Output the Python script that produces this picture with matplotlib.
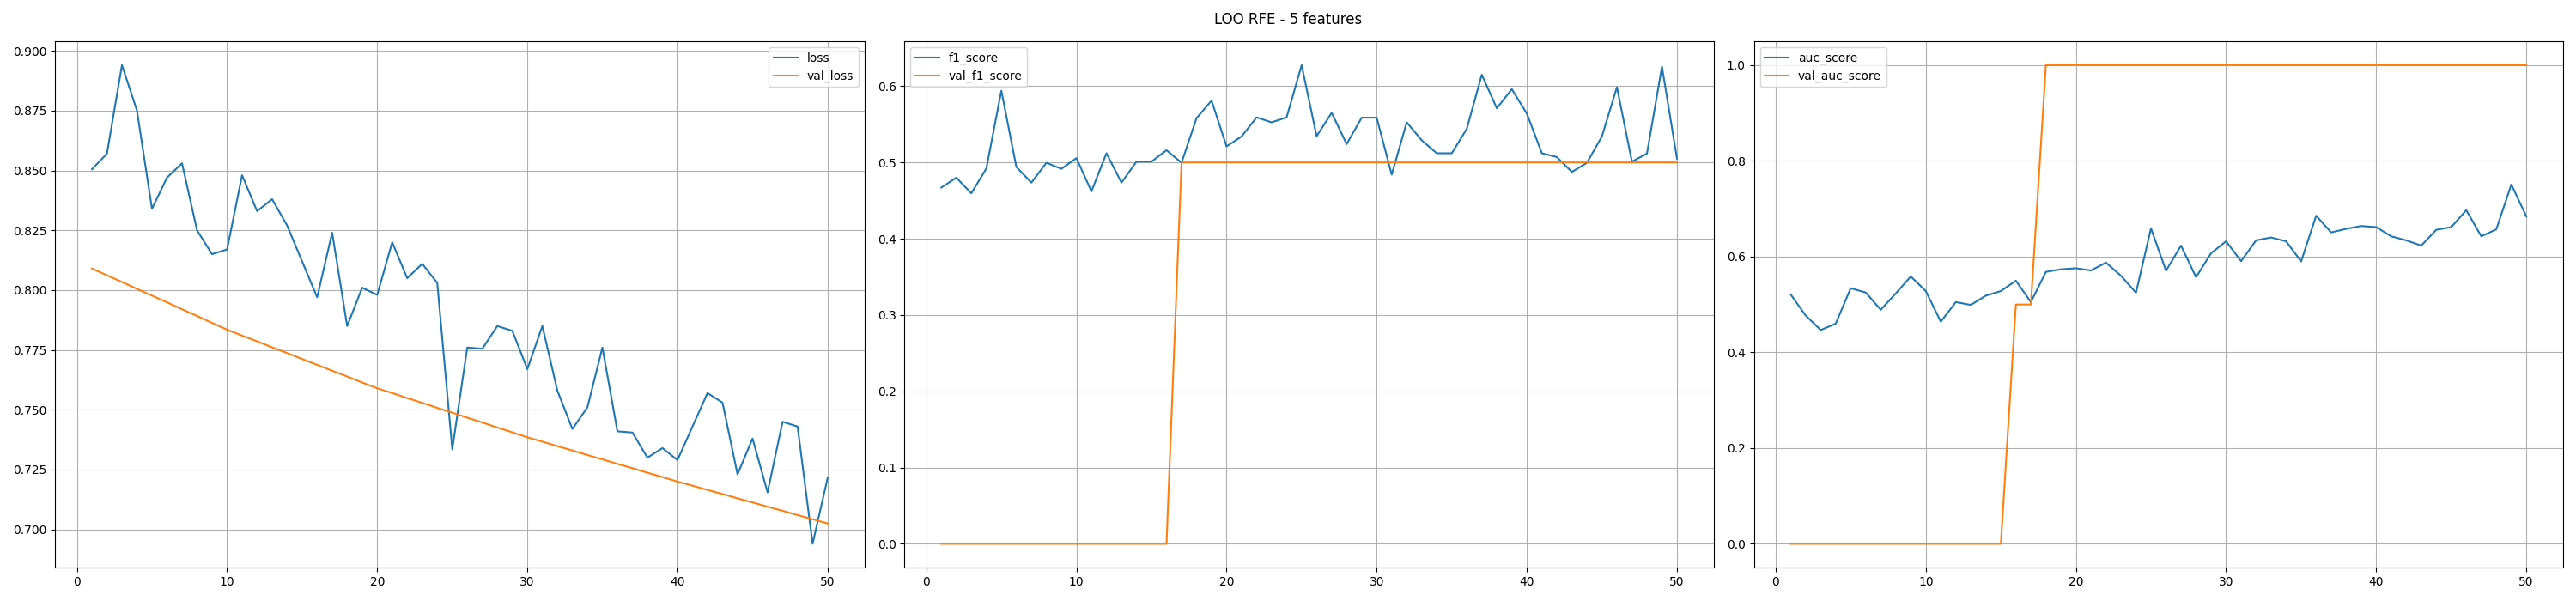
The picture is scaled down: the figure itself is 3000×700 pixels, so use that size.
import matplotlib
matplotlib.use('Agg')
import matplotlib.pyplot as plt

epochs = list(range(1, 51))

loss = [0.8505, 0.857, 0.894, 0.875, 0.834, 0.847, 0.853, 0.825, 0.815, 0.817,
        0.848, 0.833, 0.838, 0.827, 0.812, 0.797, 0.824, 0.785, 0.801, 0.798,
        0.820, 0.805, 0.811, 0.803, 0.7335, 0.776, 0.7755, 0.785, 0.783, 0.767,
        0.785, 0.758, 0.742, 0.751, 0.776, 0.741, 0.7405, 0.730, 0.734, 0.729,
        0.743, 0.757, 0.753, 0.723, 0.738, 0.7155, 0.745, 0.743, 0.694, 0.7215]
val_loss = [0.8090, 0.8062, 0.8034, 0.8005, 0.7977, 0.7949, 0.7920, 0.7892, 0.7863, 0.7835,
            0.7810, 0.7786, 0.7761, 0.7737, 0.7712, 0.7688, 0.7663, 0.7639, 0.7614, 0.7590,
            0.7570, 0.7549, 0.7529, 0.7508, 0.7488, 0.7467, 0.7447, 0.7426, 0.7406, 0.7385,
            0.7367, 0.7348, 0.7330, 0.7311, 0.7293, 0.7274, 0.7256, 0.7237, 0.7219, 0.7200,
            0.7183, 0.7165, 0.7148, 0.7130, 0.7113, 0.7095, 0.7078, 0.7060, 0.7043, 0.7025]

f1_score = [0.467, 0.480, 0.4595, 0.492, 0.594, 0.494, 0.4735, 0.4995, 0.4916, 0.5056,
            0.462, 0.512, 0.4735, 0.501, 0.501, 0.516, 0.4995, 0.558, 0.581, 0.521,
            0.534, 0.559, 0.5525, 0.559, 0.6275, 0.5344, 0.565, 0.524, 0.5586, 0.5586,
            0.484, 0.5525, 0.529, 0.512, 0.512, 0.544, 0.615, 0.571, 0.596, 0.564,
            0.512, 0.507, 0.4875, 0.4995, 0.534, 0.5986, 0.501, 0.5116, 0.6256, 0.505]
val_f1_score = [0.0] * 16 + [0.5] * 34

auc_score = [0.521, 0.477, 0.4466, 0.46, 0.534, 0.525, 0.489, 0.523, 0.5586, 0.528,
             0.464, 0.505, 0.499, 0.5185, 0.528, 0.5497, 0.505, 0.568, 0.5735, 0.5757,
             0.571, 0.5875, 0.560, 0.5245, 0.659, 0.5705, 0.623, 0.557, 0.607, 0.632,
             0.5905, 0.634, 0.640, 0.632, 0.590, 0.6855, 0.6506, 0.658, 0.664, 0.6617,
             0.6424, 0.634, 0.623, 0.656, 0.6617, 0.697, 0.6424, 0.657, 0.7507, 0.684]
val_auc_score = [0.0] * 15 + [0.5] * 2 + [1.0] * 33

panels = [
    ('loss', loss, 'val_loss', val_loss, 'best'),
    ('f1_score', f1_score, 'val_f1_score', val_f1_score, 'upper left'),
    ('auc_score', auc_score, 'val_auc_score', val_auc_score, 'upper left'),
]

fig, axes = plt.subplots(1, 3, figsize=(30, 7), dpi=100)
for ax, (name, train, vname, val, loc) in zip(axes, panels):
    ax.plot(epochs, train, label=name)
    ax.plot(epochs, val, label=vname)
    ax.grid(True)
    ax.legend(loc=loc)

fig.suptitle('LOO RFE - 5 features')
fig.tight_layout()
fig.savefig('out.png')
